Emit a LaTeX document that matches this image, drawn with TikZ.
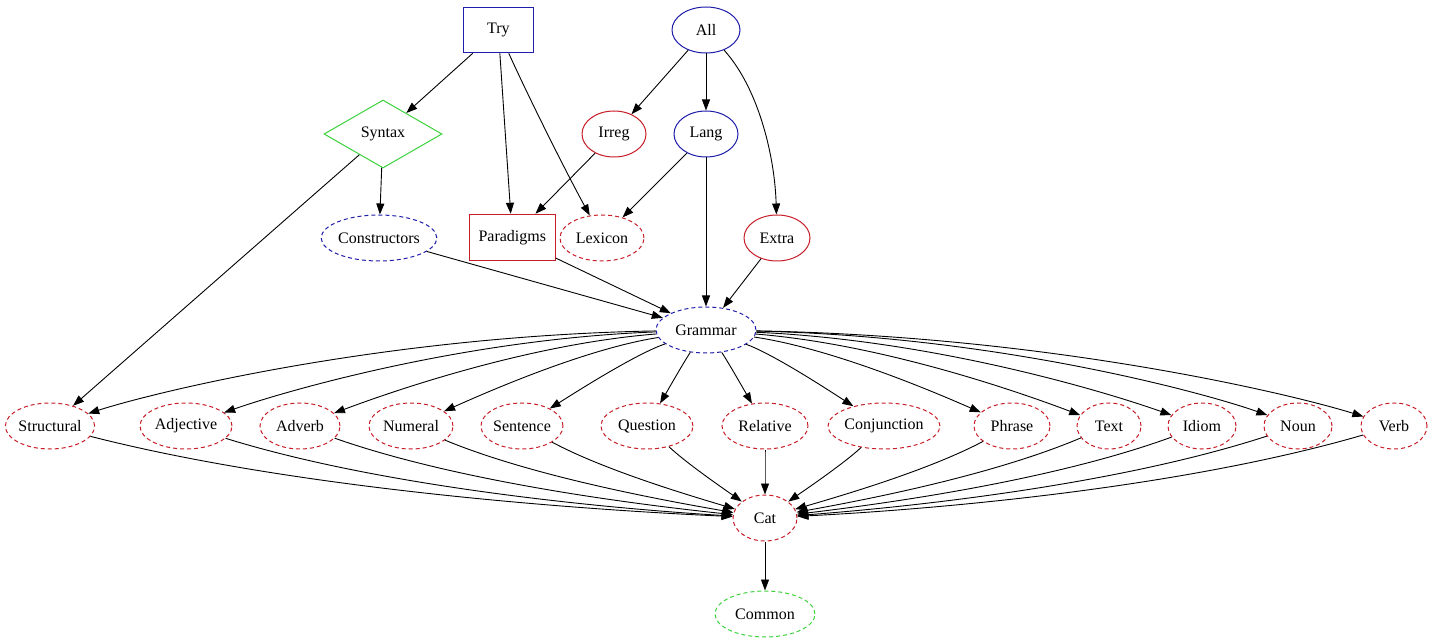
\documentclass[tikz,border=0pt]{standalone}
\usepackage{fontspec}
\setmainfont{Liberation Serif}
\usetikzlibrary{shapes.geometric,arrows.meta}
\definecolor{gvblue}{RGB}{30,30,170}
\definecolor{gvred}{RGB}{200,30,40}
\definecolor{gvgreen}{RGB}{60,210,60}
\begin{document}
\begin{tikzpicture}[x=1pt,y=-1pt,
  every node/.style={font=\fontsize{16}{18}\selectfont, inner sep=0pt},
  ell/.style={ellipse, draw, line width=1pt, minimum height=46pt},
  rectbox/.style={rectangle, draw, line width=1.1pt, minimum height=46pt},
  dsh/.style={dash pattern=on 4pt off 3pt},
  edge/.style={-{Triangle[length=11pt,width=8pt]}, line width=0.9pt, black},
]
\useasboundingbox[fill=white] (0,0) rectangle (1433,644);

\node[rectbox, color=gvblue, text=black, minimum width=70pt, minimum height=45pt] (Try) at (498.3,30.3) {Try};
\node[ell, draw=gvblue, minimum width=68pt] (All) at (706,30) {All};
\node[diamond, draw=gvgreen, line width=1pt, aspect=1.7, minimum width=118pt, minimum height=68pt] (Syntax) at (383,134) {Syntax};
\node[ell, draw=gvred, minimum width=64pt] (Irreg) at (614,134) {Irreg};
\node[ell, draw=gvblue, minimum width=64pt] (Lang) at (706,134) {Lang};
\node[ell, dsh, draw=gvblue, minimum width=114pt] (Constructors) at (379,238) {Constructors};
\node[rectbox, color=gvred, text=black, minimum width=86pt] (Paradigms) at (512.3,237.3) {Paradigms};
\node[ell, dsh, draw=gvred, minimum width=84pt] (Lexicon) at (602,238) {Lexicon};
\node[ell, draw=gvred, minimum width=66pt] (Extra) at (777,238) {Extra};
\node[ell, dsh, draw=gvblue, minimum width=100pt] (Grammar) at (706,330) {Grammar};
\node[ell, dsh, draw=gvred, minimum width=64pt] (Cat) at (765,518) {Cat};
\node[ell, dsh, draw=gvgreen, minimum width=100pt] (Common) at (765,614) {Common};

\foreach \n/\xx/\w in {Structural/50/84, Adjective/186/92, Adverb/300/80, Numeral/411/84,
  Sentence/522/82, Question/647/92, Relative/765/86, Conjunction/884/100,
  Phrase/1012/76, Text/1109/64, Idiom/1202/68, Noun/1298/68, Verb/1394/66}{
  \node[ell, dsh, draw=gvred, minimum width=\w pt] (\n) at (\xx,426) {\n};
  \pgfmathsetmacro{\d}{\xx-706}
  \pgfmathsetmacro{\f}{min(1,abs(\d)/600)}
  \pgfmathsetmacro{\ax}{706+\d*(0.333+0.167*\f)}
  \pgfmathsetmacro{\ay}{362-26*\f}
  \pgfmathsetmacro{\bx}{706+\d*(0.667+0.183*\f)}
  \draw[edge] (Grammar) .. controls (\ax,\ay) and (\bx,394) .. (\n);
  \pgfmathsetmacro{\e}{765-\xx}
  \pgfmathsetmacro{\g}{min(1,abs(\e)/600)}
  \pgfmathsetmacro{\cx}{\xx+\e*(0.333+0.017*\g)}
  \pgfmathsetmacro{\cy}{457+33*\g}
  \pgfmathsetmacro{\dx}{\xx+\e*(0.667+0.083*\g)}
  \pgfmathsetmacro{\dy}{487+23*\g}
  \draw[edge] (\n) .. controls (\cx,\cy) and (\dx,\dy) .. (Cat);
}

\draw[edge] (Try) -- (Syntax);
\draw[edge] (Try) -- (Paradigms);
\draw[edge] (Try) .. controls (530,100) and (565,170) .. (Lexicon);
\draw[edge] (All) -- (Irreg);
\draw[edge] (All) -- (Lang);
\draw[edge] (All) .. controls (760,90) and (775,160) .. (Extra);
\draw[edge] (Syntax) -- (Constructors);
\draw[edge] (Syntax) -- (Structural);
\draw[edge] (Irreg) -- (Paradigms);
\draw[edge] (Lang) -- (Lexicon);
\draw[edge] (Lang) -- (Grammar);
\draw[edge] (Constructors) -- (Grammar);
\draw[edge] (Paradigms) -- (Grammar);
\draw[edge] (Extra) -- (Grammar);
\draw[edge] (Cat) -- (Common);
\end{tikzpicture}
\end{document}
